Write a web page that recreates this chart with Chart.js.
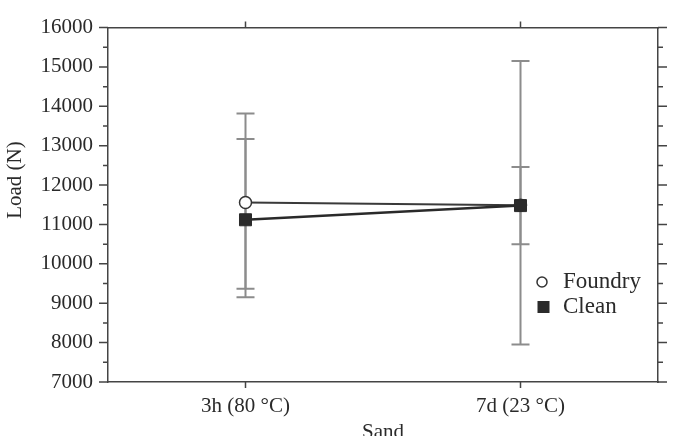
<!DOCTYPE html>
<html><head><meta charset="utf-8">
<script src="https://cdn.jsdelivr.net/npm/chart.js@4.4.1/dist/chart.umd.min.js"></script>
<style>html,body{margin:0;padding:0;background:#fff}#wrap{width:677px;height:436px}</style>
</head><body><div id="wrap"><canvas id="c" width="677" height="436"></canvas></div>
<script>
const categories = ['3h (80 °C)', '7d (23 °C)'];
const seriesNames = ['Foundry', 'Clean'];
const foundryLoad = [11560, 11490];
const cleanLoad = [11120, 11480];
const foundryHigh = [13820, 15150];
const foundryLow = [9370, 7950];
const cleanHigh = [13170, 12460];
const cleanLow = [9150, 10500];
const yTicks = [7000, 8000, 9000, 10000, 11000, 12000, 13000, 14000, 15000, 16000];
const yTitle = 'Load (N)';
const xTitle = 'Sand';

const FONT = 'Liberation Serif, Times New Roman, serif';
const TXT = '#2a2a2a';
const AXC = '#444';

const errorBars = {
  id: 'errorBars',
  beforeDatasetsDraw(chart) {
    const ctx = chart.ctx, x = chart.scales.x, y = chart.scales.y;
    const sets = [[foundryHigh, foundryLow], [cleanHigh, cleanLow]];
    ctx.save();
    ctx.strokeStyle = '#8c8c8c';
    ctx.lineWidth = 2;
    sets.forEach(([hi, lo]) => {
      categories.forEach((c, i) => {
        const px = x.getPixelForValue(i);
        const yh = y.getPixelForValue(hi[i]), yl = y.getPixelForValue(lo[i]);
        ctx.beginPath();
        ctx.moveTo(px, yh); ctx.lineTo(px, yl);
        ctx.moveTo(px - 9, yh); ctx.lineTo(px + 9, yh);
        ctx.moveTo(px - 9, yl); ctx.lineTo(px + 9, yl);
        ctx.stroke();
      });
    });
    ctx.restore();
  }
};

const axisDecor = {
  id: 'axisDecor',
  afterDraw(chart) {
    const ctx = chart.ctx, a = chart.chartArea, y = chart.scales.y, x = chart.scales.x;
    ctx.save();
    ctx.strokeStyle = AXC;
    ctx.lineWidth = 1.5;
    ctx.beginPath();
    yTicks.forEach((v, i) => {
      const py = y.getPixelForValue(v);
      ctx.moveTo(a.left - 9, py); ctx.lineTo(a.left, py);
      ctx.moveTo(a.right, py); ctx.lineTo(a.right + 9, py);
      if (i < yTicks.length - 1) {
        const pm = y.getPixelForValue((v + yTicks[i + 1]) / 2);
        ctx.moveTo(a.left - 5, pm); ctx.lineTo(a.left, pm);
        ctx.moveTo(a.right, pm); ctx.lineTo(a.right + 5, pm);
      }
    });
    categories.forEach((c, i) => {
      const px = x.getPixelForValue(i);
      ctx.moveTo(px, a.bottom); ctx.lineTo(px, a.bottom + 6);
      ctx.moveTo(px, a.top); ctx.lineTo(px, a.top - 6);
    });
    ctx.stroke();
    // y-axis title (centred near the 12000 level as in the original)
    ctx.fillStyle = TXT;
    ctx.font = '21px ' + FONT;
    ctx.textAlign = 'center';
    ctx.textBaseline = 'middle';
    ctx.translate(15, 180);
    ctx.rotate(-Math.PI / 2);
    ctx.fillText(yTitle, 0, 0);
    ctx.restore();
  }
};

const innerLegend = {
  id: 'innerLegend',
  afterDraw(chart) {
    const ctx = chart.ctx, a = chart.chartArea;
    const lx = a.right - 116, ly = a.bottom - 100;
    ctx.save();
    ctx.font = '23px ' + FONT;
    ctx.textBaseline = 'middle';
    ctx.textAlign = 'left';
    ctx.beginPath();
    ctx.arc(lx, ly, 5, 0, Math.PI * 2);
    ctx.fillStyle = '#fff'; ctx.fill();
    ctx.strokeStyle = '#333'; ctx.lineWidth = 1.5; ctx.stroke();
    ctx.fillStyle = TXT;
    ctx.fillText(seriesNames[0], lx + 21, ly);
    ctx.fillStyle = '#2b2b2b';
    ctx.fillRect(lx - 4.5, ly + 25 - 6, 12, 12);
    ctx.fillStyle = TXT;
    ctx.fillText(seriesNames[1], lx + 21, ly + 25);
    ctx.restore();
  }
};

new Chart(document.getElementById('c'), {
  type: 'line',
  data: {
    labels: categories,
    datasets: [
      {
        label: seriesNames[0], data: foundryLoad, order: 1,
        borderColor: '#3a3a3a', borderWidth: 2,
        pointStyle: 'circle', pointRadius: 6, pointBackgroundColor: '#fff',
        pointBorderColor: '#333', pointBorderWidth: 1.5
      },
      {
        label: seriesNames[1], data: cleanLoad, order: 0,
        borderColor: '#2a2a2a', borderWidth: 2.5,
        pointStyle: 'rect', pointRadius: 8.5, pointBackgroundColor: '#2b2b2b',
        pointBorderColor: '#2b2b2b', pointBorderWidth: 1
      }
    ]
  },
  options: {
    responsive: false,
    animation: false,
    devicePixelRatio: 1,
    layout: { padding: 0 },
    plugins: { legend: { display: false }, tooltip: { enabled: false } },
    scales: {
      x: {
        type: 'category', position: 'bottom', offset: true,
        grid: { display: false, drawTicks: false },
        border: { display: true, color: AXC, width: 1.5 },
        ticks: { color: TXT, font: { family: FONT, size: 21 }, padding: 12, maxRotation: 0 },
        title: { display: true, text: xTitle, color: TXT, font: { family: FONT, size: 21 }, padding: { top: 0, bottom: -9 } },
        afterFit: s => { s.height = 54; }
      },
      x2: {
        type: 'category', position: 'top', offset: true, labels: categories,
        grid: { display: false, drawTicks: false },
        border: { display: true, color: AXC, width: 1.5 },
        ticks: { display: false },
        afterFit: s => { s.height = 16; }
      },
      y: {
        position: 'left', min: 7000, max: 16000,
        afterBuildTicks: s => { s.ticks = yTicks.map(v => ({ value: v })); },
        grid: { display: false, drawTicks: false },
        border: { display: true, color: AXC, width: 1.5 },
        ticks: { color: TXT, font: { family: FONT, size: 21 }, padding: 15, callback: v => String(v) },
        afterFit: s => { s.width = 108; }
      },
      y2: {
        position: 'right', min: 7000, max: 16000,
        grid: { display: false, drawTicks: false },
        border: { display: true, color: AXC, width: 1.5 },
        ticks: { display: false },
        afterFit: s => { s.width = 19; }
      }
    }
  },
  plugins: [errorBars, axisDecor, innerLegend]
});
</script>
</body></html>
